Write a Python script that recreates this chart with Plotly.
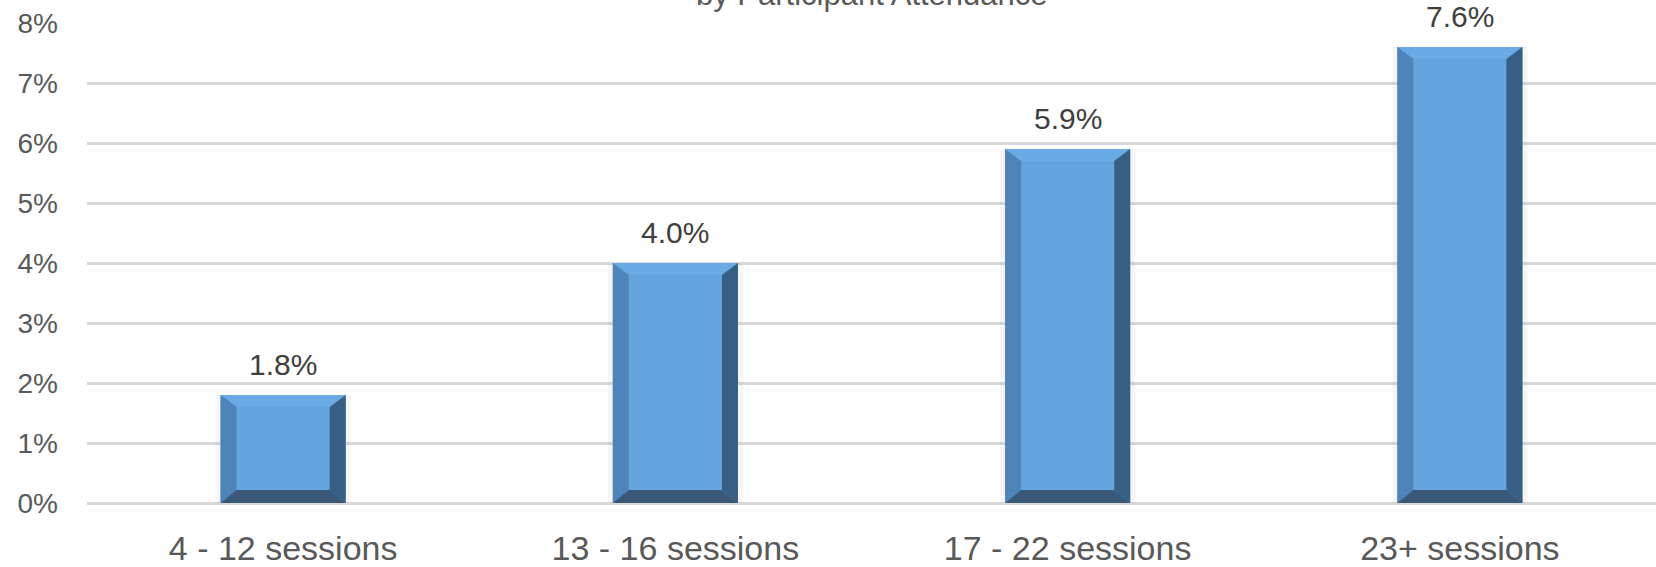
import plotly.graph_objects as go

categories = ["4 - 12 sessions", "13 - 16 sessions", "17 - 22 sessions", "23+ sessions"]
values = [1.8, 4.0, 5.9, 7.6]
labels = ["1.8%", "4.0%", "5.9%", "7.6%"]
title_text = "by Participant Attendance"

FACE = "#64A5E0"
TOP = "#6AAAE5"
LEFT = "#4E84B9"
RIGHT = "#375E83"
BOTTOM = "#3A5878"
TEXT = "#595959"
GRID = "#D9D9D9"
FONT = "Liberation Sans, Arial, sans-serif"

W = 1656
H = 567
ML, MR, MT, MB = 87, 0, 23, 64
YMAX = 8

bar_w = 0.319
half = bar_w / 2
plot_w = W - ML - MR
plot_h = H - MT - MB
px_x = 4.0 / plot_w          # data units per pixel (x)
px_y = YMAX / plot_h         # data units per pixel (y)
bev_x = 16 * px_x
bev_y = 13 * px_y
bev_top = 12 * px_y

xs = list(range(len(categories)))

fig = go.Figure()

# faint shadow
fig.add_trace(go.Bar(x=xs, y=values, width=bar_w + 10 * px_x,
                     marker=dict(color="rgba(0,0,0,0.035)", line=dict(width=0)),
                     hoverinfo="skip", showlegend=False))
# main face
fig.add_trace(go.Bar(x=xs, y=values, width=bar_w,
                     marker=dict(color=FACE, line=dict(width=0)),
                     hoverinfo="skip", showlegend=False))

def poly(px, py, color):
    fig.add_trace(go.Scatter(x=px + [px[0]], y=py + [py[0]], mode="lines",
                             fill="toself", fillcolor=color,
                             line=dict(width=0, color=color),
                             hoverinfo="skip", showlegend=False))

for i, v in zip(xs, values):
    x0, x1 = i - half, i + half
    # top bevel
    poly([x0, x1, x1 - bev_x, x0 + bev_x], [v, v, v - bev_top, v - bev_top], TOP)
    # left bevel
    poly([x0, x0 + bev_x, x0 + bev_x, x0], [0, bev_y, v - bev_top, v], LEFT)
    # right bevel
    poly([x1, x1 - bev_x, x1 - bev_x, x1], [0, bev_y, v - bev_top, v], RIGHT)
    # bottom bevel
    poly([x0, x1, x1 - bev_x, x0 + bev_x], [0, 0, bev_y, bev_y], BOTTOM)

annotations = []
for i, v, t in zip(xs, values, labels):
    annotations.append(dict(x=i, y=v, xref="x", yref="y", text=t, showarrow=False,
                            yanchor="bottom", yshift=12,
                            font=dict(family=FONT, size=30, color="#404040")))
annotations.append(dict(x=0.5, y=1 + (MT + 6) / plot_h, xref="paper", yref="paper",
                        text=title_text, showarrow=False, yanchor="middle",
                        font=dict(family=FONT, size=31, color=TEXT)))

fig.update_layout(
    width=W, height=H,
    margin=dict(l=ML, r=MR, t=MT, b=MB, pad=0),
    paper_bgcolor="white", plot_bgcolor="white",
    barmode="overlay",
    showlegend=False,
    annotations=annotations,
    xaxis=dict(range=[-0.5, 3.5], tickvals=xs, ticktext=categories,
               showgrid=False, zeroline=False, showline=False, ticks="",
               tickfont=dict(family=FONT, size=34, color=TEXT),
               ticklabelstandoff=22, fixedrange=True),
    yaxis=dict(range=[0, YMAX], dtick=1, ticksuffix="%",
               showgrid=True, gridcolor=GRID, gridwidth=3,
               zeroline=True, zerolinecolor=GRID, zerolinewidth=3,
               showline=False, ticks="",
               tickfont=dict(family=FONT, size=28, color=TEXT),
               ticklabelstandoff=28, fixedrange=True),
)

fig.write_html("out.html", config={"displayModeBar": False})
